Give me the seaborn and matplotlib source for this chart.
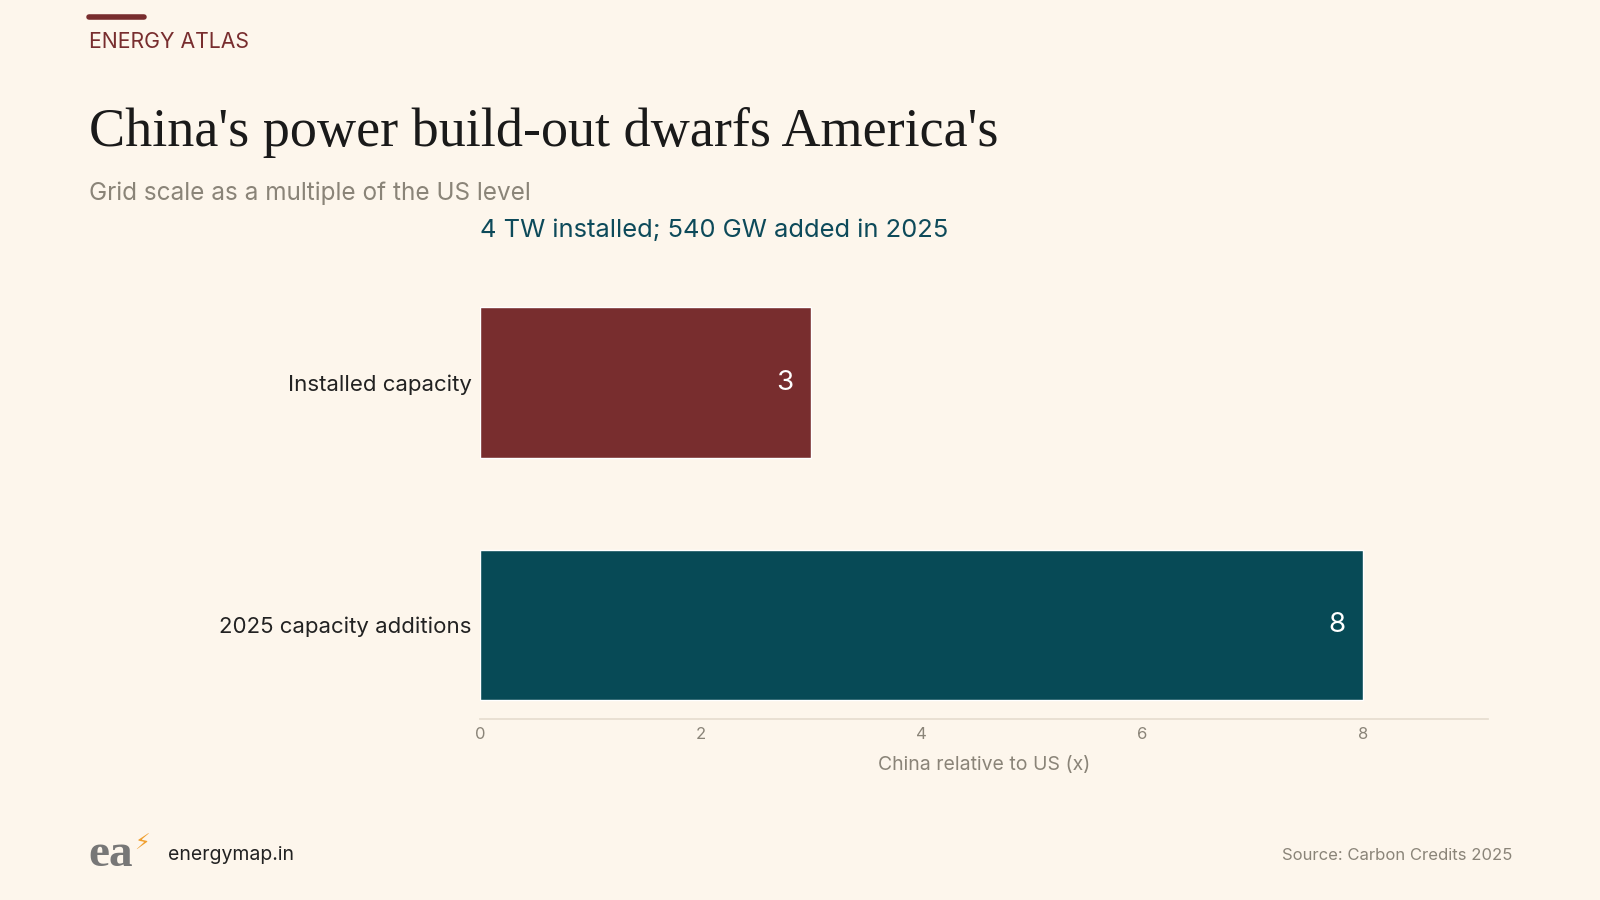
import matplotlib
matplotlib.use("Agg")
import matplotlib.pyplot as plt
import seaborn as sns
import pandas as pd

categories = ["Installed capacity", "2025 capacity additions"]
values = [3, 8]
colors = ["#782d2e", "#074a56"]

bg = "#fdf6ec"
sns.set_theme(style="white")
plt.rcParams["font.family"] = ["Inter", "DejaVu Sans"]

df = pd.DataFrame({"cat": categories, "val": values})

fig = plt.figure(figsize=(16, 9), dpi=100, facecolor=bg)
ax = fig.add_axes([0.300, 0.201, 0.630, 0.495], facecolor=bg)
sns.barplot(data=df, x="val", y="cat", hue="cat", palette=colors, width=0.62,
            legend=False, ax=ax, saturation=1)
ax.set_xlim(0, 9.13)
ax.set_ylim(1.39, -0.45)
ax.set_xticks([0, 2, 4, 6, 8])
ax.tick_params(axis="x", colors="#8a8478", labelsize=12, length=0, pad=6)
ax.tick_params(axis="y", labelsize=16, length=0, pad=6, labelcolor="#222222")
ax.set_ylabel("")
ax.set_xlabel("China relative to US (x)", fontsize=14, color="#8a8478", labelpad=10)
for s in ["top", "right", "left"]:
    ax.spines[s].set_visible(False)
ax.spines["bottom"].set_color("#e6ddd0")

for i, v in enumerate(values):
    ax.text(v - 0.16, i, str(v), ha="right", va="center", color="white", fontsize=20)

ax.text(0, -0.63, "4 TW installed; 540 GW added in 2025", transform=ax.transData,
        fontsize=18.4, color="#0d4a5a", ha="left", va="center")

fig.add_artist(plt.Line2D([0.0555, 0.09], [0.981, 0.981], color="#782d2e", lw=4))
fig.text(0.0555, 0.953, "ENERGY ATLAS", fontsize=15.3, color="#782d2e", va="center")
fig.text(0.0555, 0.853, "China's power build-out dwarfs America's", fontsize=39,
         family=["Liberation Serif", "DejaVu Serif"], color="#1a1a1a", va="center")
fig.text(0.0555, 0.785, "Grid scale as a multiple of the US level", fontsize=17.5,
         color="#8a8478", va="center")

fig.text(0.055, 0.05, "ea", fontsize=34, family=["Liberation Serif", "DejaVu Serif"],
         color="#777777", va="center", weight="bold")
fig.text(0.084, 0.062, "\u26a1", fontsize=16, color="#f0a030", va="center",
         family=["DejaVu Sans"])
fig.text(0.105, 0.05, "energymap.in", fontsize=14, color="#222222", va="center")
fig.text(0.945, 0.05, "Source: Carbon Credits 2025", fontsize=12, color="#8a8478",
         va="center", ha="right")

fig.savefig("out.png", facecolor=bg)
